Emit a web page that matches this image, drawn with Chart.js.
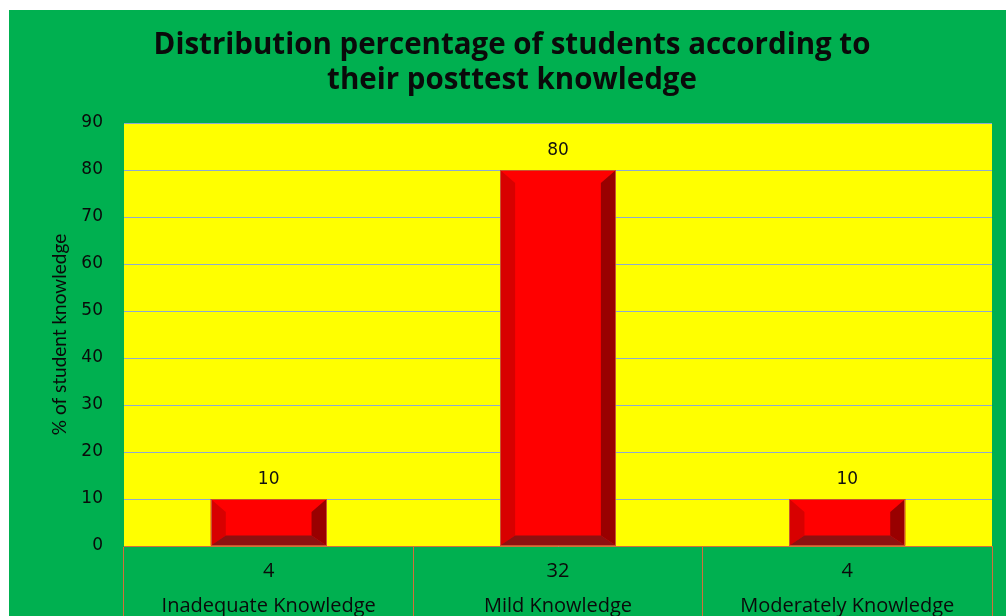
<!DOCTYPE html>
<html>
<head>
<meta charset="utf-8">
<title>Distribution percentage of students according to their posttest knowledge</title>
<script src="https://cdn.jsdelivr.net/npm/chart.js@4.4.0/dist/chart.umd.min.js"></script>
<style>
  html, body { margin: 0; padding: 0; background: #ffffff; overflow: hidden; }
  #wrap { position: absolute; left: 9px; top: 10px; width: 997px; height: 606px; background: #00b050; }
</style>
</head>
<body>
<div id="wrap"><canvas id="chart" width="997" height="606"></canvas></div>
<script>
// chart data
const categories = ['Inadequate Knowledge', 'Mild Knowledge', 'Moderately Knowledge'];
const percentages = [10, 80, 10];
const counts = [4, 32, 4];
const titleLines = ['Distribution percentage of students according to', 'their posttest knowledge'];
const yTitle = '% of student knowledge';

// yellow plot area
const plotBackground = {
    id: 'plotBackground',
    beforeDraw(chart) {
        const { ctx, chartArea: a } = chart;
        ctx.save();
        ctx.fillStyle = '#ffff00';
        ctx.fillRect(a.left, a.top, a.right - a.left, a.bottom - a.top);
        ctx.restore();
    }
};

function poly(ctx, pts, color) {
    ctx.beginPath();
    ctx.moveTo(pts[0][0], pts[0][1]);
    for (let i = 1; i < pts.length; i++) ctx.lineTo(pts[i][0], pts[i][1]);
    ctx.closePath();
    ctx.fillStyle = color;
    ctx.fill();
}

// bevel look on the bars + value labels above them
const bevelBars = {
    id: 'bevelBars',
    afterDatasetsDraw(chart) {
        const ctx = chart.ctx;
        ctx.save();
        chart.getDatasetMeta(0).data.forEach(function (bar, i) {
            const p = bar.getProps(['x', 'y', 'base', 'width'], true);
            const l = p.x - p.width / 2, r = p.x + p.width / 2, t = p.y, b = p.base;
            const s = 15, sb = 10, st = 13;
            poly(ctx, [[l, t], [l + s, t + st], [l + s, b - sb], [l, b]], '#d80000');
            poly(ctx, [[r, t], [r - s, t + st], [r - s, b - sb], [r, b]], '#990000');
            poly(ctx, [[l, b], [l + s, b - sb], [r - s, b - sb], [r, b]], '#8e1010');
            ctx.strokeStyle = '#c8562e';
            ctx.lineWidth = 1;
            ctx.strokeRect(Math.round(l) + 0.5, Math.round(t) + 0.5, Math.round(r - l) - 1, Math.round(b - t) - 1);

            ctx.fillStyle = '#111111';
            ctx.font = '17px "DejaVu Sans"';
            ctx.textAlign = 'center';
            ctx.textBaseline = 'middle';
            ctx.fillText(String(percentages[i]), p.x, t - 19);
        });
        ctx.restore();
    }
};

const ctx = document.getElementById('chart').getContext('2d');
const knowledgeChart = new Chart(ctx, {
    type: 'bar',
    data: {
        labels: categories.map((c, i) => [String(counts[i]), c]),
        datasets: [{
            label: yTitle,
            data: percentages,
            backgroundColor: '#ff0000',
            borderWidth: 0,
            barPercentage: 0.4,
            categoryPercentage: 1.0
        }]
    },
    options: {
        responsive: false,
        animation: false,
        layout: { padding: { left: 9, right: 0, top: 0, bottom: 0 } },
        plugins: {
            legend: { display: false },
            tooltip: { enabled: false },
            title: {
                display: true,
                text: titleLines,
                color: '#0a0a0a',
                font: { family: 'Open Sans', size: 29.5, weight: 'bold', lineHeight: '35px' },
                padding: { top: 18.5, bottom: 24.5 }
            }
        },
        scales: {
            x: {
                grid: {
                    display: true,
                    drawOnChartArea: false,
                    drawTicks: true,
                    tickLength: 70,
                    offset: true,
                    color: '#d0703a'
                },
                border: { display: true, color: '#d0703a', width: 1 },
                ticks: {
                    color: '#0a0a0a',
                    font: { family: 'Open Sans', size: 20, lineHeight: '35px' },
                    padding: -62.5,
                    maxRotation: 0,
                    autoSkip: false
                },
                afterFit(scale) { scale.height = 70; }
            },
            y: {
                min: 0,
                max: 90,
                ticks: {
                    stepSize: 10,
                    color: '#0a0a0a',
                    font: { family: 'DejaVu Sans', size: 17 },
                    padding: 21
                },
                grid: { color: '#8eaad0', lineWidth: 1, drawTicks: false },
                border: { display: false },
                title: {
                    display: true,
                    text: yTitle,
                    color: '#0a0a0a',
                    font: { family: 'Lato', size: 19 },
                    padding: { top: 30, bottom: 0 }
                },
                afterFit(scale) { scale.width = 106; }
            },
            y2: {
                position: 'right',
                display: true,
                grid: { display: false, drawTicks: false },
                border: { display: false },
                ticks: { display: false },
                afterFit(scale) { scale.width = 14; }
            }
        }
    },
    plugins: [plotBackground, bevelBars]
});
</script>
</body>
</html>
